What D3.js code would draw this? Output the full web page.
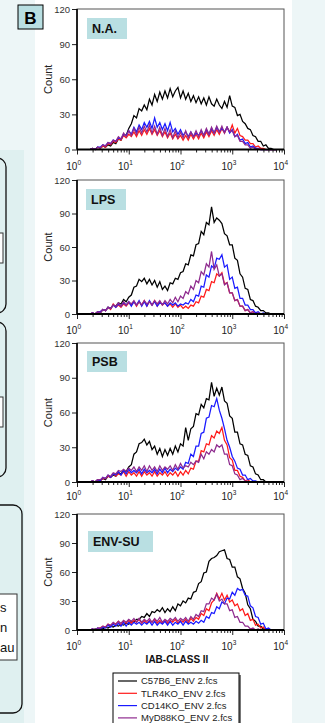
<!DOCTYPE html>
<html><head><meta charset="utf-8">
<script src="https://cdn.jsdelivr.net/npm/d3@7"></script>
<style>body{margin:0;background:#edf6f7;}svg{display:block;font-family:Arial,"Liberation Sans",sans-serif;}</style>
</head><body><svg id="c" width="325" height="723"></svg>
<script>
// ---------- data ----------
const panelNames = ["N.A.", "LPS", "PSB", "ENV-SU"];
const seriesNames = ["C57B6_ENV 2.fcs", "TLR4KO_ENV 2.fcs", "CD14KO_ENV 2.fcs", "MyD88KO_ENV 2.fcs"];
const yTicks = [0, 30, 60, 90, 120];
const xTickExponents = [0, 1, 2, 3, 4];
const binLogStart = 0.25, binLogStep = 0.05; // histogram bins in log10 intensity

const naC57B6 = [0,1,0,2,1,3,2,4,3,6, 5,9,8,13,12,18,22,29,27,35, 33,38,34,43,38,47,41,49,43,50, 44,52,45,50,53,44,50,43,48,41, 46,40,45,39,44,38,45,39,37,43, 38,35,41,36,46,37,36,29,30,24, 22,18,17,12,11,7,7,3,4,1, 1,0,0];
const naTLR4KO = [0,1,0,2,1,3,2,5,4,7, 6,9,8,12,10,13,11,15,11,16, 12,17,13,18,13,17,12,16,11,15, 10,14,9,13,9,12,8,12,8,13, 9,13,9,14,10,15,11,16,12,17, 13,18,14,19,15,21,14,18,12,11, 8,8,5,5,2,3,1,1,0,0, 0,0,0];
const naCD14KO = [0,1,0,2,2,4,3,6,5,8, 7,10,9,13,12,16,13,19,15,21, 17,23,19,24,18,27,19,23,17,22, 16,23,15,18,13,17,12,15,11,15, 11,14,12,16,12,17,13,18,14,19, 15,18,15,19,14,17,11,13,8,9, 5,6,2,3,1,1,0,0,0,0, 0,0,0];
const naMyD88KO = [0,1,0,2,1,4,3,6,5,8, 7,11,9,14,11,16,12,18,13,19, 14,20,15,21,14,20,13,19,12,18, 11,17,10,16,10,15,10,16,10,15, 11,16,11,17,12,18,13,19,14,20, 15,20,14,19,15,16,11,12,7,7, 4,4,1,2,0,1,0,0,0,0, 0,0,0];

const lpsC57B6 = [0,1,0,2,1,4,3,6,5,8, 7,10,9,13,11,15,17,24,25,31, 29,32,27,31,26,30,24,29,22,25, 21,28,27,32,31,37,38,45,44,53, 52,62,63,74,71,82,80,96,82,86, 84,81,72,70,62,62,50,48,36,33, 23,22,13,12,7,6,3,3,1,1, 0,0,0];
const lpsTLR4KO = [0,1,0,2,2,4,3,6,4,9, 6,8,6,9,7,10,8,11,7,11, 8,12,7,11,8,12,7,11,8,10, 7,9,6,9,6,8,5,7,5,8, 7,11,10,16,15,22,21,29,28,36, 34,37,27,28,19,19,12,13,7,7, 3,4,1,2,0,1,0,0,0,0, 0,0,0];
const lpsCD14KO = [0,1,0,2,2,4,3,6,5,8, 6,9,7,10,8,11,7,11,8,12, 7,11,7,12,8,11,7,10,9,10, 7,10,8,10,7,9,8,10,9,13, 11,17,16,25,24,35,33,43,41,50, 49,53,42,44,31,33,23,24,14,14, 8,8,4,4,1,2,0,1,0,0, 0,0,0];
const lpsMyD88KO = [0,1,0,2,1,4,3,6,5,8, 7,10,7,11,8,11,9,12,8,11, 8,12,9,11,8,12,9,12,8,12, 9,13,10,15,11,16,14,20,18,25, 22,30,28,38,35,45,42,56,40,44, 34,36,26,28,19,19,12,13,7,7, 3,4,1,2,0,1,0,0,0,0, 0,0,0];

const psbC57B6 = [0,1,0,2,1,3,2,5,4,6, 5,8,7,10,9,13,15,24,26,33, 34,37,32,35,28,31,24,29,22,28, 23,29,24,31,26,33,31,47,36,46, 48,59,58,67,64,72,71,86,74,81, 75,82,70,68,57,55,43,43,33,32, 24,23,14,13,7,6,2,2,0,0, 0,0,0];
const psbTLR4KO = [0,1,0,2,1,3,3,5,4,7, 5,7,6,9,5,9,6,8,5,9, 5,9,6,8,5,9,5,8,6,9, 5,8,6,9,5,9,6,10,7,12, 11,18,18,27,26,33,32,40,38,44, 42,47,36,32,21,19,10,10,5,4, 1,2,0,0,0,0,0,0,0,0, 0,0,0];
const psbCD14KO = [0,1,0,2,1,4,3,6,4,7, 6,9,6,10,7,11,8,10,8,11, 7,11,8,10,8,11,7,11,8,12, 8,11,9,12,10,13,11,17,16,24, 22,31,31,42,43,55,56,66,65,72, 62,55,46,36,30,22,18,12,11,6, 6,2,3,1,1,0,0,0,0,0, 0,0,0];
const psbMyD88KO = [0,1,0,2,2,4,3,6,5,8, 7,10,9,11,9,12,10,13,9,13, 10,14,9,14,10,13,9,14,10,13, 11,14,10,15,11,16,12,14,13,17, 15,18,17,24,20,26,24,28,26,32, 30,32,24,24,15,14,7,6,2,3, 1,0,0,0,0,0,0,0,0,0, 0,0,0];

const envC57B6 = [0,0,1,0,2,1,3,2,4,3, 5,4,6,5,7,6,9,8,11,11, 14,13,17,14,19,18,21,19,23,18, 22,19,24,20,27,25,30,28,33,32, 39,40,48,50,59,60,71,74,75,77, 81,82,83,74,73,65,65,55,53,43, 38,26,22,11,9,4,4,1,1,0, 0,0,0];
const envTLR4KO = [0,1,0,2,2,4,3,6,4,7, 6,9,5,9,7,10,7,10,8,11, 7,10,7,10,8,11,7,10,7,10, 7,10,8,11,7,10,8,11,7,12, 9,13,11,17,15,22,20,28,31,38, 32,38,31,36,29,31,25,27,20,22, 15,17,10,11,5,6,2,3,0,1, 0,0,0];
const envCD14KO = [0,1,0,2,1,3,2,5,3,6, 4,7,4,8,4,8,5,8,6,8, 5,8,6,9,5,9,5,8,6,9, 5,9,5,8,6,9,5,9,6,8, 6,9,7,10,8,14,12,18,17,24, 22,29,27,33,32,39,36,43,41,42, 36,35,25,23,14,13,6,7,1,2, 0,0,0];
const envMyD88KO = [0,1,0,2,2,4,3,6,5,8, 6,9,7,10,8,11,9,12,8,12, 8,11,9,12,8,12,9,13,8,11, 9,12,10,13,9,12,10,13,9,14, 11,16,14,20,19,27,27,33,31,37, 30,32,27,27,20,21,13,14,8,8, 4,4,1,2,0,1,0,0,0,0, 0,0,0];

const panelSeries = [
  [naC57B6, naTLR4KO, naCD14KO, naMyD88KO],
  [lpsC57B6, lpsTLR4KO, lpsCD14KO, lpsMyD88KO],
  [psbC57B6, psbTLR4KO, psbCD14KO, psbMyD88KO],
  [envC57B6, envTLR4KO, envCD14KO, envMyD88KO]
];

// ---------- styles / layout ----------
const colors = ["#000000", "#ff1a1a", "#1a1aff", "#8e2a8e"];
const plotLeft = 77, plotRight = 284;
const panelLayout = [
  {top: 9,   bottom: 149.5, boxY: 18,  boxX: 87, boxW: 40, tickLab: 170},
  {top: 180, bottom: 314,   boxY: 189, boxX: 86, boxW: 40, tickLab: 334},
  {top: 343, bottom: 482,   boxY: 351, boxX: 87, boxW: 40, tickLab: 500},
  {top: 514, bottom: 630,   boxY: 531, boxX: 88, boxW: 65, tickLab: 650}
];

const svg = d3.select("#c");

// background pieces
svg.append("rect").attr("x",0).attr("y",0).attr("width",325).attr("height",723).attr("fill","#edf6f7");
svg.append("rect").attr("x",0).attr("y",150).attr("width",24).attr("height",573).attr("fill","#dff0f0");
svg.append("rect").attr("x",35).attr("y",0).attr("width",257).attr("height",723).attr("fill","#ffffff");
// partial rounded panels at the left edge
const leftBoxes = [{x:-20,y:158,w:26,h:155},{x:-20,y:322,w:26,h:155},{x:-30,y:505,w:52,h:208}];
leftBoxes.forEach(b => svg.append("rect").attr("x",b.x).attr("y",b.y).attr("width",b.w).attr("height",b.h)
  .attr("rx",9).attr("fill","none").attr("stroke","#111").attr("stroke-width",1.3));
[{x:-10,y:233,w:13,h:30},{x:-10,y:397,w:13,h:30},{x:-10,y:594,w:27,h:66}].forEach(b =>
  svg.append("rect").attr("x",b.x).attr("y",b.y).attr("width",b.w).attr("height",b.h)
    .attr("fill","#ffffff").attr("stroke","#333").attr("stroke-width",1));
const leftText = ["s","n","au"];
leftText.forEach((t,i)=> svg.append("text").attr("x", 0).attr("y", 612 + i*20)
  .attr("font-size",13).attr("fill","#111").text(t));

// panel letter
svg.append("rect").attr("x",18).attr("y",5).attr("width",25).attr("height",24)
  .attr("fill","#b9dfe2").attr("stroke","#000").attr("stroke-width",1);
svg.append("text").attr("x",30.5).attr("y",23.5).attr("text-anchor","middle")
  .attr("font-size",17).attr("font-weight","bold").text("B");

const x = d3.scaleLog().domain([1, 1e4]).range([plotLeft, plotRight]);
const binLogs = d3.range(naC57B6.length).map(i => binLogStart + i * binLogStep);

panelLayout.forEach((L, p) => {
  const y = d3.scaleLinear().domain([0, 120]).range([L.bottom, L.top]);
  const g = svg.append("g");
  g.append("rect").attr("x",plotLeft).attr("y",L.top).attr("width",plotRight-plotLeft)
    .attr("height",L.bottom-L.top).attr("fill","#fff").attr("stroke","#555").attr("stroke-width",1);

  // curves
  const line = d3.line().x((d,i) => x(Math.pow(10, binLogs[i]))).y(d => y(d));
  panelSeries[p].forEach((s, k) => {
    g.append("path").attr("d", line(s)).attr("fill","none")
      .attr("stroke", colors[k]).attr("stroke-width", 1.25).attr("stroke-linejoin","miter");
  });

  // y axis
  const ya = g.append("g").attr("transform",`translate(${plotLeft},0)`)
    .call(d3.axisLeft(y).tickValues(yTicks).tickSize(5).tickPadding(2));
  ya.select(".domain").remove();
  ya.selectAll("line").attr("stroke","#222");
  ya.selectAll("text").attr("font-size",9.5).attr("fill","#333").attr("font-family","Arial, Liberation Sans, sans-serif");
  g.append("line").attr("x1",plotLeft).attr("x2",plotLeft).attr("y1",L.top).attr("y2",L.bottom)
    .attr("stroke","#000").attr("stroke-width",1.6);

  // x axis (major + minor)
  const minors = [];
  for (let e = 0; e < 4; e++) for (let m = 2; m <= 9; m++) minors.push(m * Math.pow(10, e));
  const xm = g.append("g").attr("transform",`translate(0,${L.bottom})`)
    .call(d3.axisBottom(x).tickValues(minors).tickSize(3).tickFormat(""));
  xm.select(".domain").remove();
  xm.selectAll("line").attr("stroke","#222");
  const xM = g.append("g").attr("transform",`translate(0,${L.bottom})`)
    .call(d3.axisBottom(x).tickValues(xTickExponents.map(e => Math.pow(10, e))).tickSize(5).tickFormat(""));
  xM.select(".domain").remove();
  xM.selectAll("line").attr("stroke","#222");
  g.append("line").attr("x1",plotLeft).attr("x2",plotRight).attr("y1",L.bottom).attr("y2",L.bottom)
    .attr("stroke","#000").attr("stroke-width",2.2);

  xTickExponents.forEach(e => {
    const t = g.append("text").attr("x", x(Math.pow(10, e)) + 4).attr("y", L.tickLab)
      .attr("text-anchor","end").attr("font-size",10).attr("fill","#222");
    t.append("tspan").text("10");
    t.append("tspan").attr("font-size",6.5).attr("dy",-5).text(e);
  });

  // y title
  g.append("text").attr("transform",`translate(52,${(L.top+L.bottom)/2}) rotate(-90)`)
    .attr("text-anchor","middle").attr("font-size",11).attr("fill","#222").text("Count");

  // treatment label
  g.append("rect").attr("x",L.boxX).attr("y",L.boxY).attr("width",L.boxW).attr("height",21).attr("fill","#b9dfe2");
  g.append("text").attr("x",L.boxX+5).attr("y",L.boxY+15).attr("font-size",12.5)
    .attr("font-weight","bold").attr("fill","#111").text(panelNames[p]);
});

// x title
svg.append("text").attr("x",177).attr("y",663).attr("text-anchor","middle")
  .attr("font-size",10).attr("font-weight","bold").attr("fill","#111").text("IAB-CLASS II");

// legend
svg.append("rect").attr("x",115).attr("y",675).attr("width",126).attr("height",60).attr("fill","#777");
svg.append("rect").attr("x",113).attr("y",673).attr("width",126).attr("height",60)
  .attr("fill","#fff").attr("stroke","#000").attr("stroke-width",1);
seriesNames.forEach((n, k) => {
  const yy = 681 + k * 12.3;
  svg.append("line").attr("x1",118).attr("x2",137).attr("y1",yy).attr("y2",yy)
    .attr("stroke",colors[k]).attr("stroke-width",1.2);
  svg.append("text").attr("x",141).attr("y",yy+3.3).attr("font-size",9.5).attr("fill","#222").text(n);
});
</script></body></html>
